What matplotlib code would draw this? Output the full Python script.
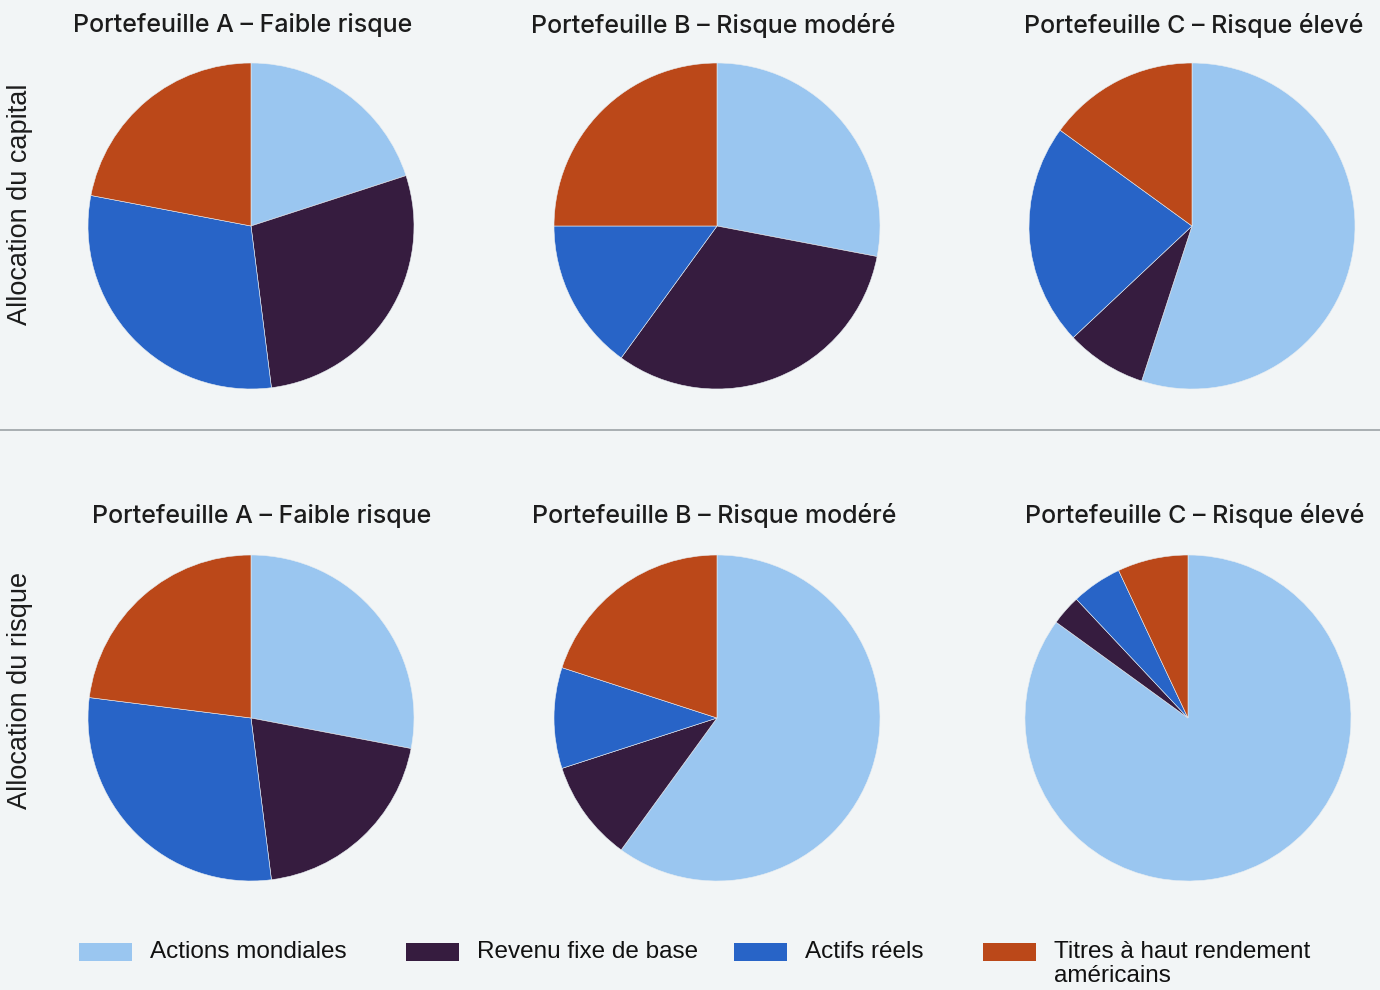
import matplotlib.pyplot as plt
from matplotlib.patches import Rectangle

# asset classes and their colours
categories = ['Actions mondiales', 'Revenu fixe de base', 'Actifs réels',
              'Titres à haut rendement\naméricains']
colors = ['#9AC6F0', '#361C3F', '#2864C7', '#BB4819']

portfolios = ['Portefeuille A – Faible risque',
              'Portefeuille B – Risque modéré',
              'Portefeuille C – Risque élevé']

# share of each asset class (%)
capital_a = [20, 28, 30, 22]
capital_b = [28, 32, 15, 25]
capital_c = [55, 8, 22, 15]
risk_a = [28, 20, 29, 23]
risk_b = [60, 10, 10, 20]
risk_c = [85, 3, 5, 7]

rows = [('Allocation du capital', [capital_a, capital_b, capital_c]),
        ('Allocation du risque', [risk_a, risk_b, risk_c])]

bg = '#F2F5F6'
W, H = 1380, 990
fig = plt.figure(figsize=(W / 100, H / 100), dpi=100, facecolor=bg)

# pixel layout of the grid
centers_x = [[251, 717, 1192], [251, 717, 1188]]
centers_y = [226, 718]
title_x = [[243, 713, 1194], [262, 714, 1195]]
title_y = [25, 516]
label_y = [204, 690]
r = 163

for i, (row_label, series) in enumerate(rows):
    for j, vals in enumerate(series):
        cx, cy = centers_x[i][j], centers_y[i]
        ax = fig.add_axes([(cx - r) / W, (H - cy - r) / H, 2 * r / W, 2 * r / H])
        ax.pie(vals, colors=colors, startangle=90, counterclock=False,
               wedgeprops=dict(edgecolor='#E8EEF2', linewidth=0.4))
        ax.set_xlim(-1, 1)
        ax.set_ylim(-1, 1)
        ax.set_aspect('auto')
        ax.axis('off')
        fig.text(title_x[i][j] / W, 1 - title_y[i] / H, portfolios[j],
                 ha='center', va='center', fontsize=18, family='Inter',
                 fontweight='medium', color='#1C1C1C')
    fig.text(20 / W, 1 - label_y[i] / H, row_label, rotation=90,
             ha='center', va='center', fontsize=19.5, family='Liberation Sans',
             color='#1C1C1C')

# divider between the two rows
fig.add_artist(plt.Line2D([0, 1], [1 - 430 / H, 1 - 430 / H],
                          color='#9CA3A6', linewidth=1.2))

# legend along the bottom
leg_x = [79, 406, 734, 983]
for x, lab, c in zip(leg_x, categories, colors):
    fig.add_artist(Rectangle((x / W, 1 - 961 / H), 53 / W, 18 / H,
                             facecolor=c, edgecolor='none',
                             transform=fig.transFigure))
    fig.text((x + 71) / W, 1 - 941 / H, lab, ha='left', va='top',
             fontsize=17.5, family='Liberation Sans', color='#111111',
             linespacing=1.1)

fig.savefig('out.png', dpi=100, facecolor=bg)
